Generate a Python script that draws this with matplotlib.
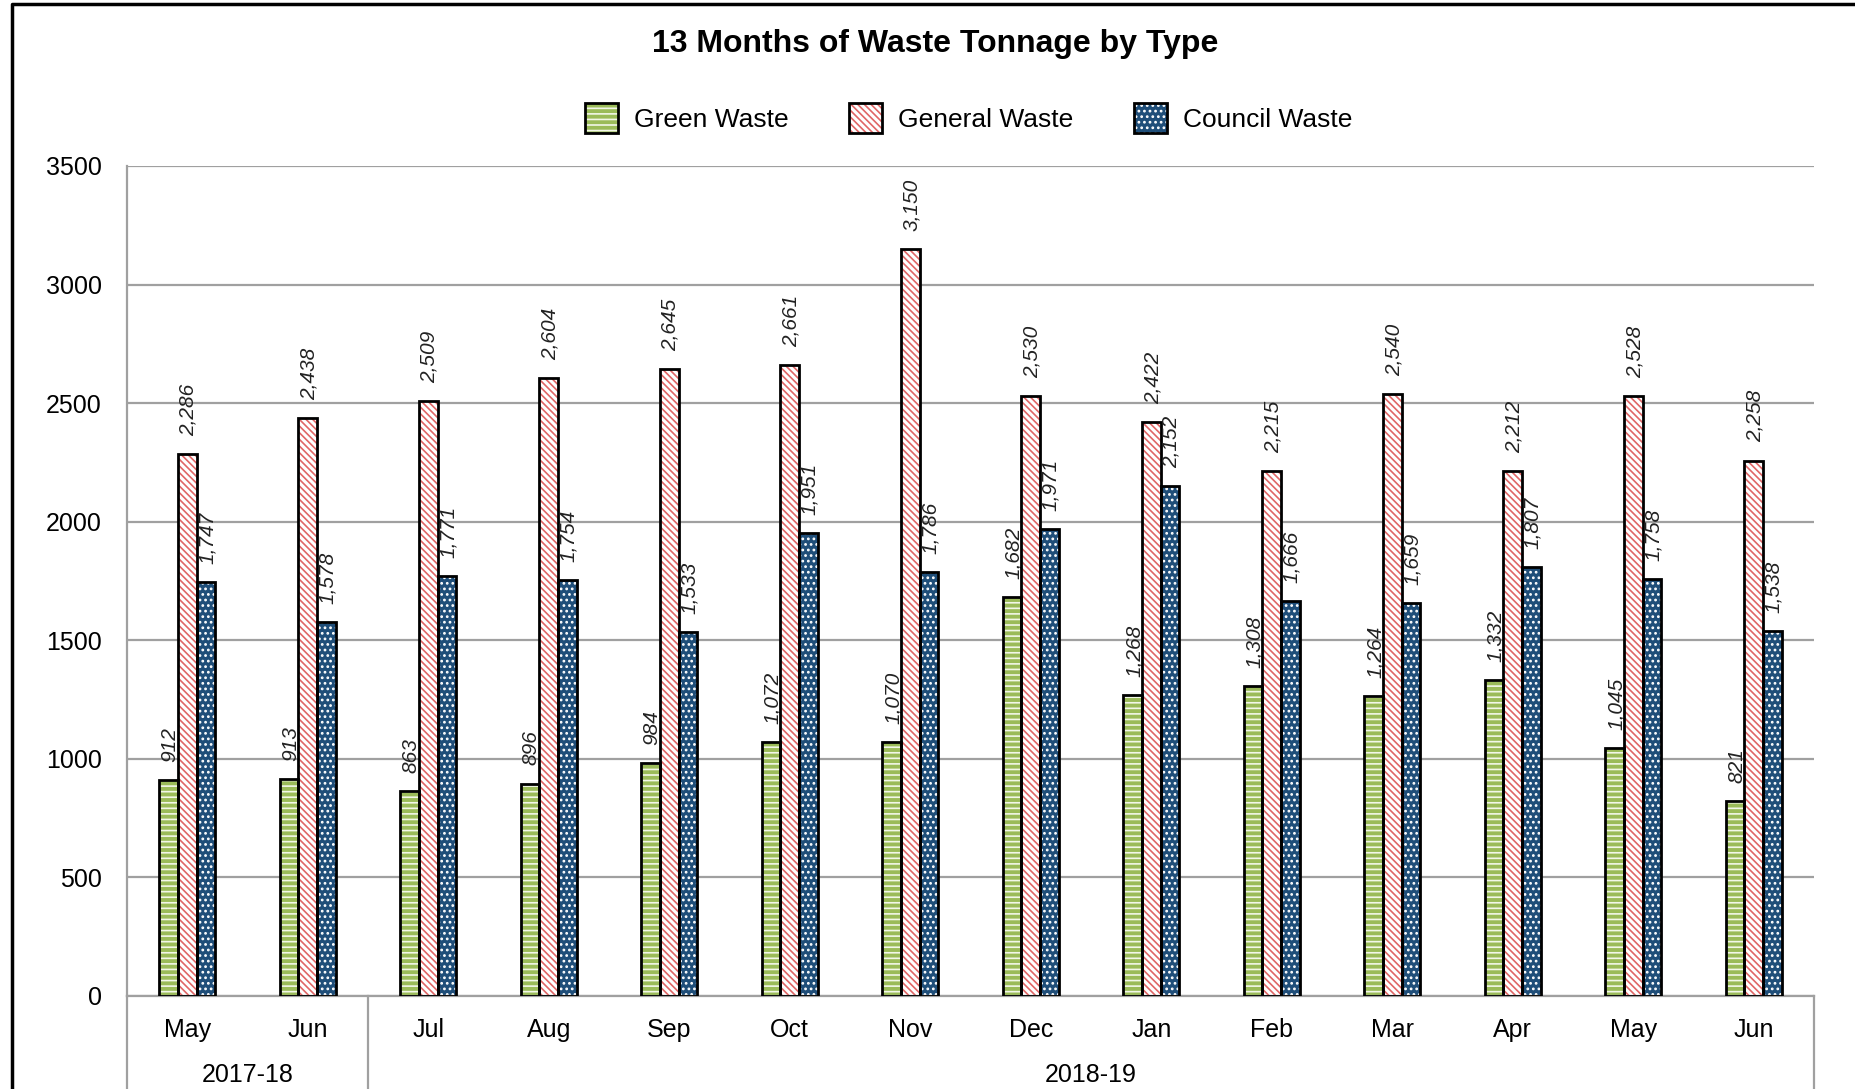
import matplotlib
matplotlib.use("Agg")
from matplotlib import pyplot as plt
from matplotlib.lines import Line2D
from matplotlib.patches import Patch
import matplotlib.transforms as mtransforms
import numpy as np

plt.rcParams['font.family'] = ['Liberation Sans', 'DejaVu Sans']
plt.rcParams['hatch.linewidth'] = 1.2

# data
months = ["May", "Jun", "Jul", "Aug", "Sep", "Oct", "Nov", "Dec", "Jan", "Feb", "Mar", "Apr", "May", "Jun"]
years = ["2017-18", "2018-19"]
year_spans = [(0, 1), (2, 13)]   # first / last month index of each year

green = [912, 913, 863, 896, 984, 1072, 1070, 1682, 1268, 1308, 1264, 1332, 1045, 821]
general = [2286, 2438, 2509, 2604, 2645, 2661, 3150, 2530, 2422, 2215, 2540, 2212, 2528, 2258]
council = [1747, 1578, 1771, 1754, 1533, 1951, 1786, 1971, 2152, 1666, 1659, 1807, 1758, 1538]

series = [
    ("Green Waste", green, "#9BBB59", "---"),
    ("General Waste", general, "#FFFFFF", "\\\\\\\\\\"),
    ("Council Waste", council, "#1F4E79", "..."),
]
hatch_cols = ["#F2F7E8", "#E06666", "#FFFFFF"]

fig = plt.figure(figsize=(18.56, 10.89), dpi=100)
ax = fig.add_axes([0.0684, 0.0854, 0.909, 0.7622])

x = np.arange(len(months))
w = 0.155
handles = []
for i, (name, vals, fc, hatch) in enumerate(series):
    pos = x + (i - 1) * w
    # coloured + hatched layer, then black outline on top
    ax.bar(pos, vals, w, color=fc, hatch=hatch, edgecolor=hatch_cols[i], linewidth=0, zorder=2)
    ax.bar(pos, vals, w, facecolor="none", edgecolor="black", linewidth=2, zorder=3)
    for px, v in zip(pos, vals):
        ax.annotate(f"{v:,}", (px, v), xytext=(1, 13), textcoords="offset points",
                    rotation=90, ha="center", va="bottom", fontsize=15,
                    style="italic", color="#222222")
    h1 = Patch(facecolor=fc, hatch=hatch, edgecolor=hatch_cols[i], linewidth=0)
    h2 = Patch(facecolor="none", edgecolor="black", linewidth=2)
    handles.append((h1, h2))

ax.set_ylim(0, 3500)
ax.set_yticks(np.arange(0, 3501, 500))
ax.set_xlim(-0.5, len(months) - 0.5)
ax.set_xticks(x)
ax.set_xticklabels(months)
ax.tick_params(axis="both", length=0, labelsize=18, colors="black")
ax.tick_params(axis="x", pad=16)
ax.tick_params(axis="y", pad=18)
ax.grid(axis="y", color="#A0A0A0", linewidth=1.6, zorder=0)
ax.set_axisbelow(True)
for s in ["top", "right"]:
    ax.spines[s].set_visible(False)
for s in ["left", "bottom"]:
    ax.spines[s].set_color("#A0A0A0")
    ax.spines[s].set_linewidth(1.6)

# category group separators and year labels
trans = mtransforms.blended_transform_factory(ax.transData, ax.transAxes)
for xs in [-0.5, 1.5, len(months) - 0.5]:
    ax.plot([xs, xs], [0, -0.2], transform=trans, color="#A0A0A0", lw=1.6, clip_on=False)
for yr, (a, b) in zip(years, year_spans):
    ax.annotate(yr, ((a + b) / 2, 0), xycoords=trans, xytext=(0, -57),
                textcoords="offset points", ha="center", va="center", fontsize=18)

fig.text(0.504, 0.9596, "13 Months of Waste Tonnage by Type", ha="center", va="center",
         fontsize=23, fontweight="bold")
fig.legend(handles, [s[0] for s in series], loc="center", bbox_to_anchor=(0.522, 0.8916),
           ncol=3, frameon=False, fontsize=19, handlelength=1.25, handleheight=1.35,
           handletextpad=0.6, columnspacing=2.3)

# chart frame (only left and top edges are inside the picture)
fig.add_artist(Line2D([0.0062, 0.0062, 1.1], [-0.1, 0.9963, 0.9963],
                      transform=fig.transFigure, color="black", lw=2.5))

fig.savefig("out.png", dpi=100)
